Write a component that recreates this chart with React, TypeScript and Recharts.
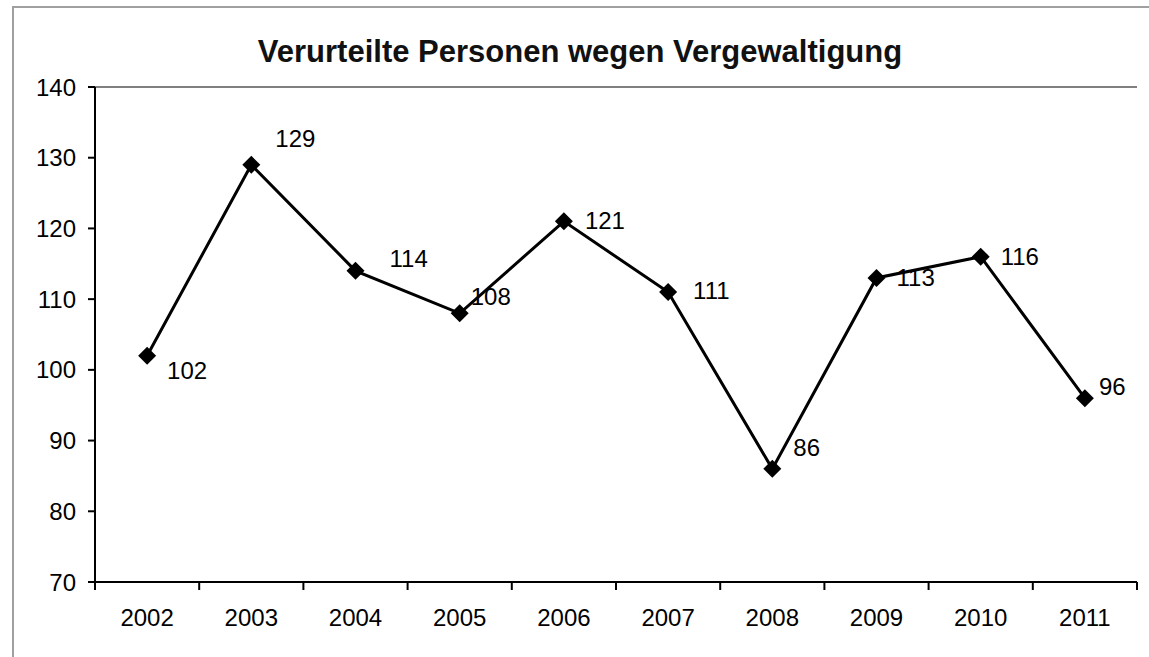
import React from 'react';
import { LineChart, Line, XAxis, YAxis, ReferenceLine, LabelList } from 'recharts';

const jahre = ['2002', '2003', '2004', '2005', '2006', '2007', '2008', '2009', '2010', '2011'];
const verurteilte = [102, 129, 114, 108, 121, 111, 86, 113, 116, 96];
const yTicks = [70, 80, 90, 100, 110, 120, 130, 140];

// manual label nudges (as in the original sheet)
const labelDx = [20, 24, 34, 11, 21, 25, 21, 20, 20, 14];
const labelDy = [15, -26, -12, -17, -1, -2, -21, 0, 0, -12];

const data = jahre.map((jahr, i) => ({ jahr, wert: verurteilte[i] }));

const W = 1149;
const H = 657;
const X_H = 75;
const M = { top: 87, right: 12, bottom: 0, left: 0 };
const Y_W = 95;
const BAND = (W - M.right - Y_W) / jahre.length;
const FONT = '"Liberation Sans", Arial, sans-serif';

const Diamond = (props: any) => {
  const { cx, cy, index } = props;
  const s = 9;
  return (
    <path
      key={`d-${index}`}
      d={`M${cx},${cy - s} L${cx + s},${cy} L${cx},${cy + s} L${cx - s},${cy} Z`}
      fill="#000"
    />
  );
};

const XTick = (props: any) => {
  const { x, y, payload, index } = props;
  const half = BAND / 2;
  const last = index === jahre.length - 1;
  return (
    <g>
      <line x1={x - half} x2={x - half} y1={y} y2={y + 8} stroke="#000" strokeWidth={2} />
      {last && <line x1={x + half} x2={x + half} y1={y} y2={y + 8} stroke="#000" strokeWidth={2} />}
      <text
        x={x}
        y={y + 35}
        textAnchor="middle"
        dominantBaseline="central"
        fontSize={24}
        fontFamily={FONT}
        fill="#000"
      >
        {payload.value}
      </text>
    </g>
  );
};

const WertLabel = (props: any) => {
  const { x, y, value, index } = props;
  return (
    <text
      x={x + labelDx[index]}
      y={y + labelDy[index]}
      textAnchor="start"
      dominantBaseline="central"
      fontSize={24}
      fontFamily={FONT}
      fill="#000"
    >
      {value}
    </text>
  );
};

export default function App() {
  return (
    <div style={{ position: 'absolute', left: 0, top: 0, width: W, height: H, background: '#fff', overflow: 'hidden' }}>
      <div
        style={{
          position: 'absolute',
          left: 12,
          top: 6,
          width: W - 12,
          height: H - 6,
          borderLeft: '2px solid #a0a0a0',
          borderTop: '2px solid #a0a0a0',
        }}
      />
      <div
        style={{
          position: 'absolute',
          left: 0,
          top: 34,
          width: 1160,
          textAlign: 'center',
          fontFamily: FONT,
          fontWeight: 'bold',
          fontSize: 31,
          color: '#111',
        }}
      >
        Verurteilte Personen wegen Vergewaltigung
      </div>
      <div style={{ position: 'absolute', left: 0, top: 0 }}>
        <LineChart width={W} height={H} data={data} margin={M}>
          <XAxis
            dataKey="jahr"
            scale="band"
            interval={0}
            tickSize={0}
            tickMargin={0}
            tickLine={false}
            axisLine={{ stroke: '#000', strokeWidth: 2 }}
            tick={<XTick />}
            height={X_H}
          />
          <YAxis
            domain={[70, 140]}
            ticks={yTicks}
            interval={0}
            width={Y_W}
            tickSize={7}
            tickMargin={12}
            tickLine={{ stroke: '#000', strokeWidth: 2 }}
            axisLine={{ stroke: '#000', strokeWidth: 2 }}
            tick={{ fontSize: 24, fontFamily: FONT, fill: '#000' }}
            allowDataOverflow
          />
          <YAxis
            yAxisId="rahmen"
            orientation="right"
            domain={[70, 140]}
            width={0}
            tick={false}
            tickLine={false}
            axisLine={{ stroke: '#808080', strokeWidth: 2 }}
          />
          <ReferenceLine y={140} stroke="#808080" strokeWidth={2} />
          <Line
            dataKey="wert"
            stroke="#000"
            strokeWidth={3}
            dot={Diamond}
            activeDot={false}
            isAnimationActive={false}
          >
            <LabelList dataKey="wert" content={<WertLabel />} />
          </Line>
        </LineChart>
      </div>
    </div>
  );
}
